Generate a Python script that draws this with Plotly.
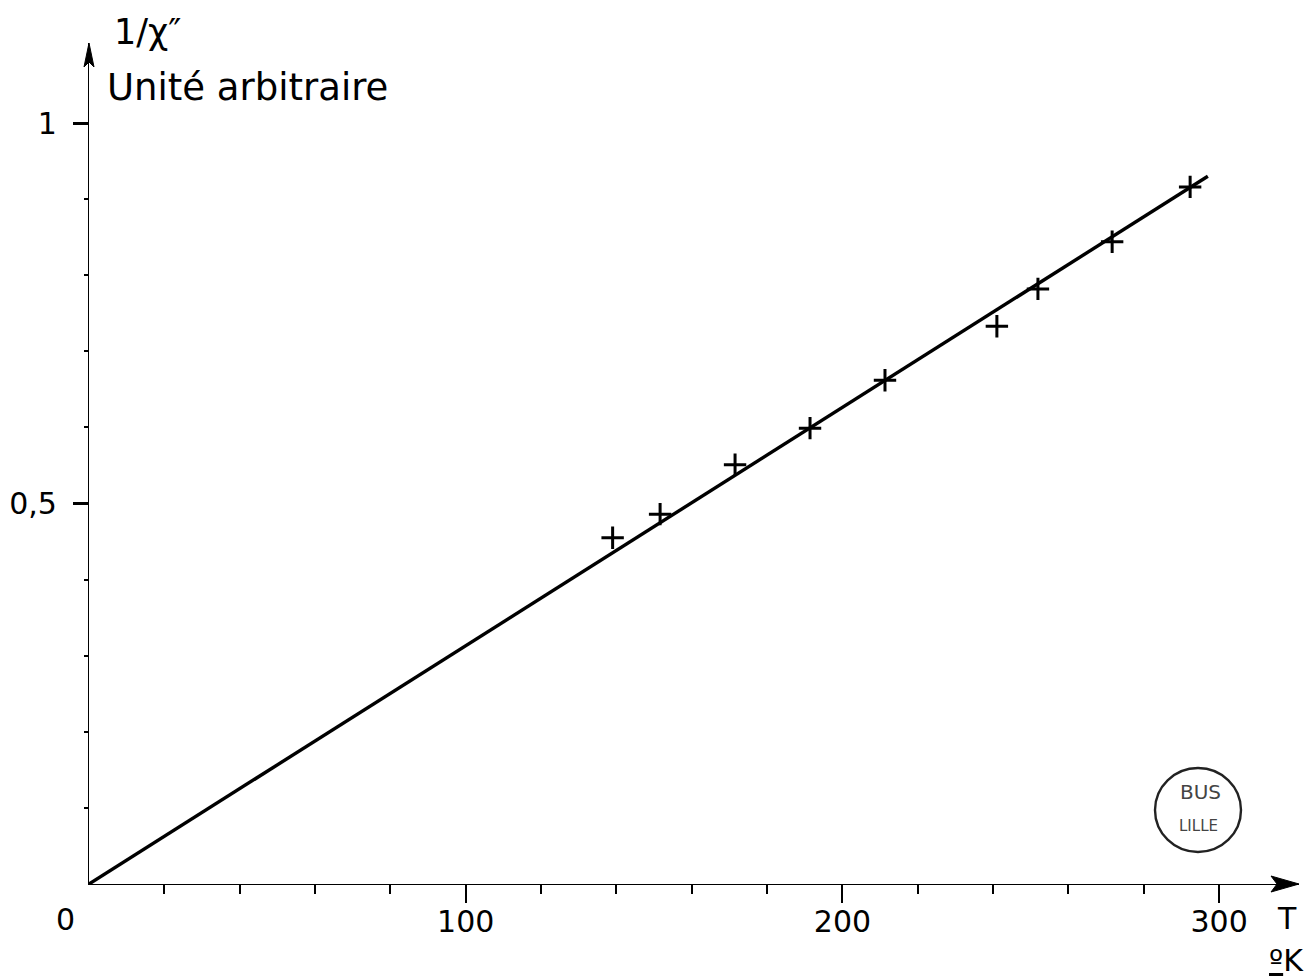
import plotly.graph_objects as go

# ---- data ----
T_K = [139.0, 151.6, 171.5, 191.4, 211.3, 241.0, 251.9, 271.6, 292.3]
inv_chi = [0.455, 0.486, 0.551, 0.599, 0.662, 0.733, 0.782, 0.844, 0.916]
fit_T = [0, 297]
fit_y = [0, 0.930]

x_major = [100, 200, 300]
x_major_text = ["100", "200", "300"]
x_minor = [20, 40, 60, 80, 120, 140, 160, 180, 220, 240, 260, 280]
y_major = [0.5, 1.0]
y_major_text = ["0,5", "1"]
y_minor = [0.1, 0.2, 0.3, 0.4, 0.6, 0.7, 0.8, 0.9]

# ---- layout geometry (pixels) ----
W, H = 1311, 977
L, R, TOP, B = 89, 12, 43, 93
PW = W - L - R
PH = H - TOP - B
FONT = "DejaVu Sans"


def px(xp):
    return (xp - L) / PW


def py(yp):
    return (H - B - yp) / PH


fig = go.Figure()
fig.add_trace(go.Scatter(x=fit_T, y=fit_y, mode="lines",
                         line=dict(color="black", width=3.4), hoverinfo="skip"))
fig.add_trace(go.Scatter(x=T_K, y=inv_chi, mode="markers",
                         marker=dict(symbol="cross-thin", size=16,
                                     line=dict(color="black", width=3)),
                         cliponaxis=False))

fig.update_layout(
    width=W, height=H, autosize=False,
    margin=dict(l=L, r=R, t=TOP, b=B, pad=0, autoexpand=False),
    plot_bgcolor="white", paper_bgcolor="white",
    showlegend=False,
    font=dict(family=FONT, size=30, color="black"),
)
fig.update_xaxes(
    range=[0, 321.2], showgrid=False, zeroline=False, automargin=False,
    showline=True, linecolor="black", linewidth=1.3,
    tickmode="array", tickvals=x_major, ticktext=x_major_text,
    ticks="outside", ticklen=18, tickwidth=2, tickcolor="black",
    ticklabelstandoff=-7,
    tickfont=dict(family=FONT, size=30, color="black"),
    minor=dict(tickmode="array", tickvals=x_minor, ticks="outside",
               ticklen=9, tickwidth=1.5, tickcolor="black", showgrid=False),
)
fig.update_yaxes(
    range=[0, (H - B - TOP) / 761.0], showgrid=False, zeroline=False, automargin=False,
    showline=True, linecolor="black", linewidth=1.3,
    tickmode="array", tickvals=y_major, ticktext=y_major_text,
    ticks="outside", ticklen=15, tickwidth=3, tickcolor="black",
    ticklabelstandoff=10,
    tickfont=dict(family=FONT, size=30, color="black"),
    minor=dict(tickmode="array", tickvals=y_minor, ticks="outside",
               ticklen=4, tickwidth=1.5, tickcolor="black", showgrid=False),
)

shapes = []
# x-axis arrowhead (tip at right end of axis)
tip_x, tip_y = 1299, 884
shapes.append(dict(
    type="path", xref="paper", yref="paper",
    path=(f"M {px(tip_x)} {py(tip_y)} L {px(tip_x - 28)} {py(tip_y - 8)} "
          f"L {px(tip_x - 22)} {py(tip_y)} L {px(tip_x - 28)} {py(tip_y + 8)} Z"),
    fillcolor="black", line=dict(color="black", width=1)))
# y-axis arrowhead (tip at top of axis)
ty_x, ty_y = 89, 43
shapes.append(dict(
    type="path", xref="paper", yref="paper",
    path=(f"M {px(ty_x)} {py(ty_y)} L {px(ty_x - 5)} {py(ty_y + 24)} "
          f"L {px(ty_x)} {py(ty_y + 19)} L {px(ty_x + 5)} {py(ty_y + 24)} Z"),
    fillcolor="black", line=dict(color="black", width=1)))
# library stamp
shapes.append(dict(type="circle", xref="paper", yref="paper",
                   x0=px(1155), x1=px(1241), y0=py(768), y1=py(852),
                   line=dict(color="#222222", width=2.4)))
fig.update_layout(shapes=shapes)

annots = [
    dict(text="1/χ″", x=px(112), y=py(32), xanchor="left", yanchor="middle",
         font=dict(family=FONT, size=35, color="black")),
    dict(text="Unité arbitraire", x=px(105), y=py(87), xanchor="left", yanchor="middle",
         font=dict(family=FONT, size=37, color="black")),
    dict(text="0", x=px(65), y=py(920), xanchor="center", yanchor="middle",
         font=dict(family=FONT, size=30, color="black")),
    dict(text="T", x=px(1287), y=py(918), xanchor="center", yanchor="middle",
         font=dict(family=FONT, size=30, color="black")),
    dict(text="<u>º</u>K", x=px(1306), y=py(960), xanchor="right", yanchor="middle",
         font=dict(family=FONT, size=30, color="black")),
    dict(text="BUS", x=px(1200), y=py(792), xanchor="center", yanchor="middle",
         font=dict(family=FONT, size=20, color="#444444")),
    dict(text="LILLE", x=px(1198), y=py(826), xanchor="center", yanchor="middle",
         font=dict(family=FONT, size=15, color="#444444")),
]
for a in annots:
    a.update(xref="paper", yref="paper", showarrow=False)
fig.update_layout(annotations=annots)

fig.write_html("out.html")
